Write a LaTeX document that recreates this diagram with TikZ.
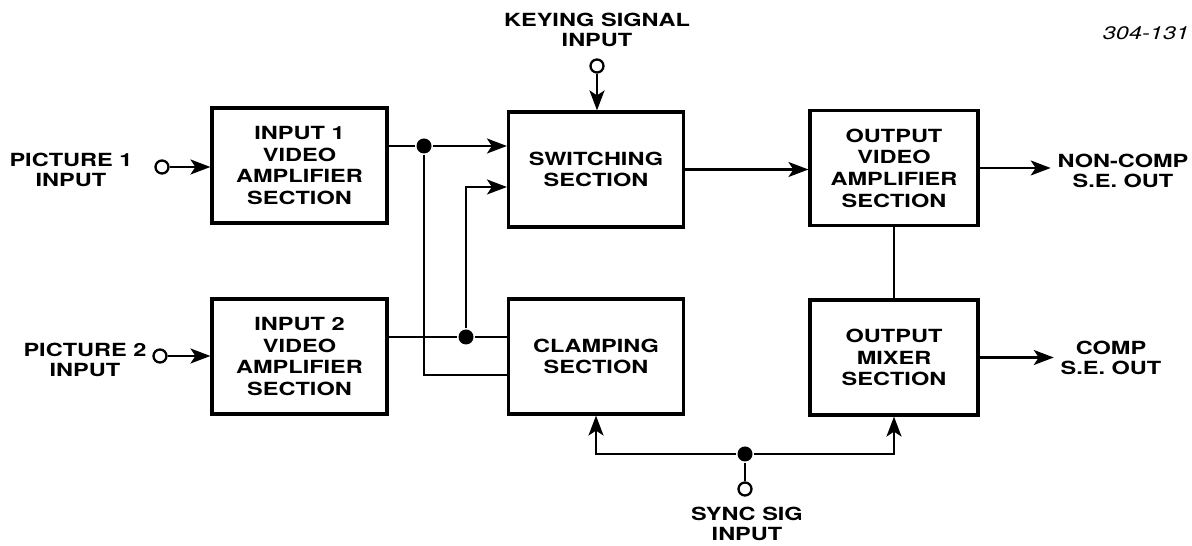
\documentclass[tikz,border=0pt]{standalone}
\usepackage{fontspec}
\newfontfamily\diagfont[FakeStretch=1.3]{TeX Gyre Heros}
\usetikzlibrary{arrows.meta}

\tikzset{
  blk/.style={draw, line width=1.8pt, minimum width=3.5cm, minimum height=2.3cm,
    align=center, font=\diagfont\bfseries\fontsize{10.3}{12.3}\selectfont},
  lbl/.style={align=center, font=\diagfont\bfseries\fontsize{10.3}{11.4}\selectfont},
  term/.style={draw, circle, line width=1.3pt, minimum size=0.26cm, inner sep=0pt, fill=white},
  junc/.style={fill, circle, minimum size=0.3cm, inner sep=0pt}
}

\begin{document}
\begin{tikzpicture}[>={Stealth[length=0.4cm,width=0.3cm,inset=0.1cm]}, line width=1.2pt]
\useasboundingbox (0,0) rectangle (23.84,10.92);

\node[blk] (IN1) at (5.99,7.61) {INPUT 1\\VIDEO\\AMPLIFIER\\SECTION};
\node[blk] (IN2) at (5.99,3.79) {INPUT 2\\VIDEO\\AMPLIFIER\\SECTION};
\node[blk] (SW) at (11.92,7.53) {SWITCHING\\SECTION};
\node[blk] (CL) at (11.92,3.79) {CLAMPING\\SECTION};
\node[blk, minimum width=3.36cm] (OV) at (17.88,7.56) {OUTPUT\\VIDEO\\AMPLIFIER\\SECTION};
\node[blk, minimum width=3.36cm] (MX) at (17.88,3.77) {OUTPUT\\MIXER\\SECTION};

\node[lbl] (P1L) at (1.42,7.52) {PICTURE 1\\INPUT};
\node[lbl] (P2L) at (1.7,3.73) {PICTURE 2\\INPUT};
\node[lbl] (KSL) at (11.94,10.33) {KEYING SIGNAL\\INPUT};
\node[lbl] (SSL) at (14.94,0.44) {SYNC SIG\\INPUT};
\node[lbl] (NC) at (22.46,7.5) {NON-COMP\\S.E. OUT};
\node[lbl] (CO) at (22.22,3.76) {COMP\\S.E. OUT};
\node[anchor=east, inner sep=1pt, font=\diagfont\itshape\fontsize{10.3}{12}\selectfont] (FIG) at (23.84,10.26) {304-131};

\node[term] (P1) at (3.24,7.58) {};
\node[term] (P2) at (3.2,3.8) {};
\node[term] (KS) at (11.94,9.6) {};
\node[term] (SS) at (14.9,1.14) {};

\node[junc] (J1) at (8.48,8.0) {};
\node[junc] (J2) at (9.32,4.18) {};
\node[junc] (J3) at (14.9,1.84) {};

\draw[->] (P1) -- (P1 -| IN1.west);
\draw[->] (P2) -- (P2 -| IN2.west);
\draw (IN1.east |- J1) -- (J1);
\draw[->] (J1) -- (J1 -| SW.west);
\draw (J1) |- ([yshift=-0.37cm]CL.west);
\draw (IN2.east |- J2) -- (J2) -- (J2 -| CL.west);
\draw[->] (J2) |- ([yshift=-0.35cm]SW.west);
\draw[->] (KS) -- (KS |- SW.north);
\draw[->] (SW) -- (SW -| OV.west);
\draw (OV.south) -- (MX.north);
\draw[->] (OV) -- (OV -| NC.west);
\draw[->] (MX) -- (MX -| CO.west);
\draw (SS) -- (J3);
\draw[->] (J3) -| (CL.south);
\draw[->] (J3) -| (MX.south);
\end{tikzpicture}
\end{document}
